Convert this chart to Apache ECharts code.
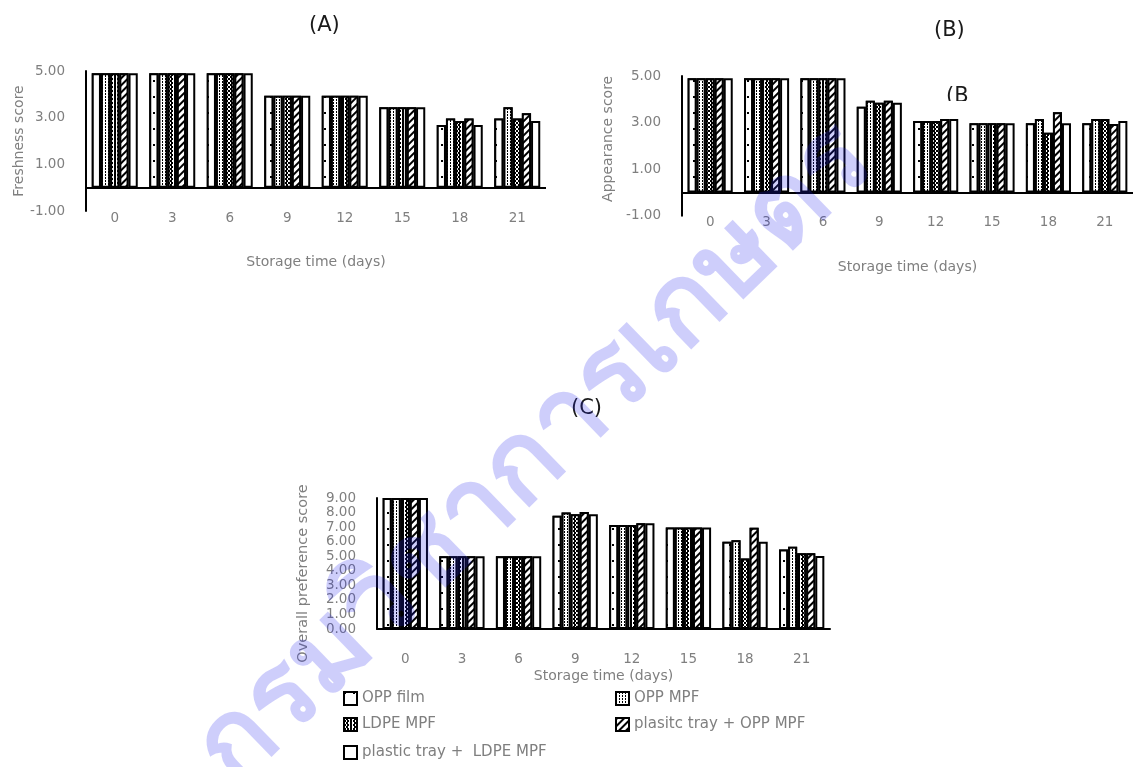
<!DOCTYPE html>
<html><head><meta charset="utf-8">
<script src="https://cdn.jsdelivr.net/npm/echarts@6/dist/echarts.min.js"></script>
<style>html,body{margin:0;padding:0;background:#fff}#c{width:1135px;height:767px}</style>
</head><body><div id="c"></div>
<script>
// ---- data ----
const days = ['0', '3', '6', '9', '12', '15', '18', '21'];
const seriesNames = ['OPP film', 'OPP MPF', 'LDPE MPF', 'plasitc tray + OPP MPF', 'plastic tray +  LDPE MPF'];

// (A) Freshness score
const freshOPPfilm   = [4.9, 4.9, 4.9, 3.94, 3.94, 3.45, 2.69, 2.96];
const freshOPPMPF    = [4.9, 4.9, 4.9, 3.94, 3.94, 3.45, 2.96, 3.45];
const freshLDPEMPF   = [4.9, 4.9, 4.9, 3.94, 3.94, 3.45, 2.86, 2.96];
const freshTrayOPP   = [4.9, 4.9, 4.9, 3.94, 3.94, 3.45, 2.96, 3.19];
const freshTrayLDPE  = [4.9, 4.9, 4.9, 3.94, 3.94, 3.45, 2.69, 2.86];

// (B) Appearance score
const appOPPfilm     = [4.9, 4.9, 4.9, 3.68, 3.07, 2.97, 2.97, 2.97];
const appOPPMPF      = [4.9, 4.9, 4.9, 3.94, 3.07, 2.97, 3.15, 3.15];
const appLDPEMPF     = [4.9, 4.9, 4.9, 3.85, 3.07, 2.97, 2.56, 3.15];
const appTrayOPP     = [4.9, 4.9, 4.9, 3.94, 3.15, 2.97, 3.44, 2.94];
const appTrayLDPE    = [4.9, 4.9, 4.9, 3.85, 3.15, 2.97, 2.97, 3.07];

// (C) Overall preference score
const ovOPPfilm      = [9.0, 5.0, 5.0, 7.78, 7.14, 6.98, 6.0, 5.47];
const ovOPPMPF       = [9.0, 5.0, 5.0, 8.0, 7.14, 6.98, 6.09, 5.65];
const ovLDPEMPF      = [9.0, 5.0, 5.0, 7.88, 7.14, 6.98, 4.85, 5.2];
const ovTrayOPP      = [9.0, 5.0, 5.0, 8.04, 7.26, 6.98, 6.96, 5.2];
const ovTrayLDPE     = [9.0, 5.0, 5.0, 7.88, 7.26, 6.98, 6.0, 5.01];

const panelTitles = ['(A)', '(B)', '(C)'];
const yNames = ['Freshness score', 'Appearance score', 'Overall preference score'];
const xName = 'Storage time (days)';
const watermarkText = 'กรมวิชาการเกษตร';

// ---- styling ----
const FONT = 'DejaVu Sans';
const GRAY = '#7f7f7f';
const decals = [
  {symbol: 'rect', symbolSize: 1, color: '#000', backgroundColor: '#fff', dashArrayX: [2, 7], dashArrayY: [2, 14]},
  {symbol: 'rect', symbolSize: 1, color: '#000', backgroundColor: '#fff', dashArrayX: [1, 2], dashArrayY: [2, 1]},
  {symbol: 'rect', symbolSize: 1, color: '#000', backgroundColor: '#fff', dashArrayX: [[2, 1], [0, 1.5, 2, 0]], dashArrayY: [2, 0]},
  {symbol: 'rect', symbolSize: 1, color: '#000', backgroundColor: '#fff', dashArrayX: [1, 0], dashArrayY: [2, 3], rotation: -Math.PI / 4},
  null
];
const panels = [
  {grid: {left: 86, top: 71, width: 460, height: 140}, min: -1, max: 5, interval: 2, nameGapY: 60, nameGapX: 44, labelMargin: 0,
   namePad: [0, 0, 0, 0], data: [freshOPPfilm, freshOPPMPF, freshLDPEMPF, freshTrayOPP, freshTrayLDPE]},
  {grid: {left: 682, top: 76, width: 451, height: 139.7}, min: -1, max: 5, interval: 2, nameGapY: 67, nameGapX: 45, labelMargin: 0,
   namePad: [0, 0, 0, 14], data: [appOPPfilm, appOPPMPF, appLDPEMPF, appTrayOPP, appTrayLDPE]},
  {grid: {left: 377, top: 498, width: 453, height: 131}, min: 0, max: 9, interval: 1, nameGapY: 66, nameGapX: 40, labelMargin: 23,
   namePad: [0, 20, 0, 0], data: [ovOPPfilm, ovOPPMPF, ovLDPEMPF, ovTrayOPP, ovTrayLDPE]}
];

const grids = [], xAxes = [], yAxes = [], series = [];
panels.forEach((p, i) => {
  grids.push(Object.assign({containLabel: false}, p.grid));
  xAxes.push({
    type: 'category', gridIndex: i, data: days,
    name: xName, nameLocation: 'middle', nameGap: p.nameGapX,
    nameTextStyle: {color: GRAY, fontFamily: FONT, fontSize: 14},
    axisLine: {show: i === 2, onZero: false, lineStyle: {color: '#000', width: 2}},
    axisTick: {show: false},
    axisLabel: {color: GRAY, fontFamily: FONT, fontSize: 13.5, margin: p.labelMargin}
  });
  yAxes.push({
    type: 'value', gridIndex: i, min: p.min, max: p.max, interval: p.interval,
    name: yNames[i], nameLocation: 'middle', nameGap: p.nameGapY,
    nameTextStyle: {color: GRAY, fontFamily: FONT, fontSize: i === 2 ? 14.5 : 14, padding: p.namePad},
    axisLine: {show: true, lineStyle: {color: '#000', width: 2}},
    axisTick: {show: false},
    splitLine: {show: false},
    axisLabel: {color: GRAY, fontFamily: FONT, fontSize: 13.5, margin: 21, formatter: v => v.toFixed(2)}
  });
  p.data.forEach((d, s) => {
    const ser = {
      type: 'bar', name: seriesNames[s], xAxisIndex: i, yAxisIndex: i, data: d,
      barGap: '0%', barCategoryGap: '20%',
      itemStyle: {color: '#fff', borderColor: '#000', borderWidth: 2},
      emphasis: {disabled: true}
    };
    if (decals[s]) ser.itemStyle.decal = decals[s];
    if (s === 0 && i < 2) {
      ser.markLine = {
        silent: true, symbol: ['none', 'none'], label: {show: false},
        lineStyle: {color: '#000', width: 2, type: 'solid'},
        data: [{yAxis: 0}]
      };
    }
    series.push(ser);
  });
});

const legendPos = [[338, 686], [610, 686], [338, 712], [610, 712], [338, 740]];
const legends = seriesNames.map((n, k) => ({
  data: [n], left: legendPos[k][0], top: legendPos[k][1],
  icon: 'rect', itemWidth: 13, itemHeight: 13, itemGap: 5,
  itemStyle: {borderColor: '#000', borderWidth: 2},
  textStyle: {color: GRAY, fontFamily: FONT, fontSize: 15},
  selectedMode: false
}));

const titleText = (t, x, y) => ({type: 'text', left: x, top: y, z: 100,
  style: {text: t, fill: '#1a1a1a', font: '21px "' + FONT + '"', textAlign: 'center'}});

const option = {
  animation: false,
  backgroundColor: '#fff',
  grid: grids, xAxis: xAxes, yAxis: yAxes, series: series,
  legend: legends,
  graphic: [
    titleText(panelTitles[0], 309, 15),
    titleText(panelTitles[1], 934, 20),
    titleText(panelTitles[2], 571, 398),
    {type: 'text', left: 946, top: 86, z: 100, style: {text: '(B', fill: '#1a1a1a', font: '21px "' + FONT + '"'}},
    {type: 'rect', left: 940, top: 101, z: 101, shape: {width: 40, height: 14}, style: {fill: '#fff'}},
    {type: 'text', x: 535, y: 455, rotation: 0.77, z: 200, silent: true,
     style: {text: watermarkText, fill: 'rgba(30,30,235,0.22)', font: 'bold 110px "Noto Sans", "DejaVu Sans", sans-serif', align: 'center', verticalAlign: 'middle'}}
  ]
};
const chart = echarts.init(document.getElementById('c'), null, {renderer: 'canvas'});
chart.setOption(option);
</script></body></html>
